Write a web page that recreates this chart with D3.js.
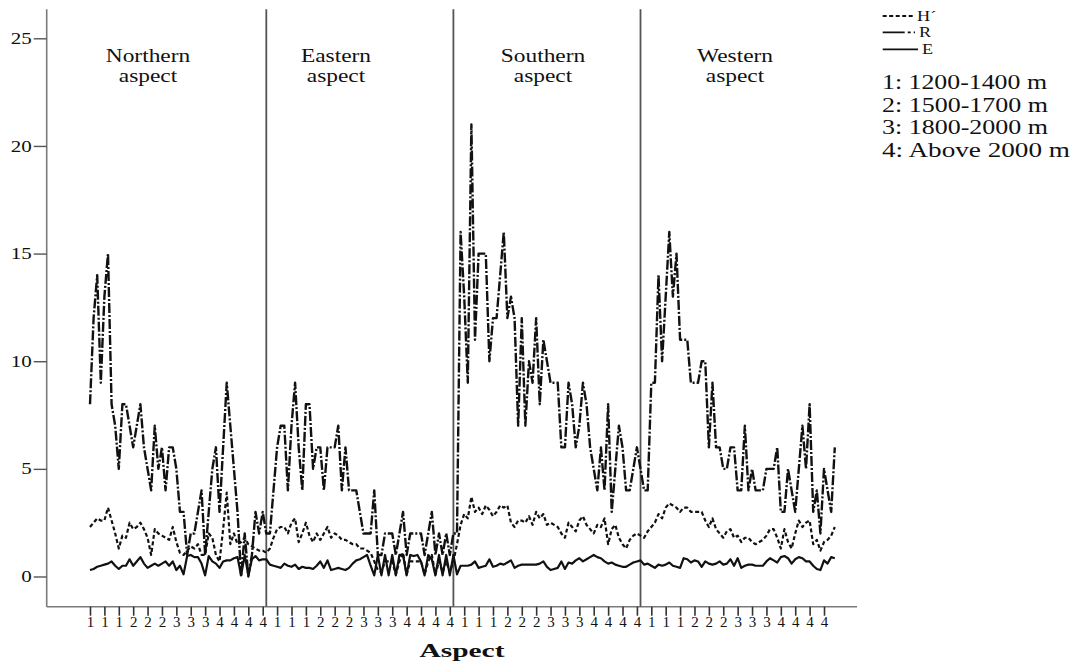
<!DOCTYPE html>
<html><head><meta charset="utf-8">
<script src="https://cdn.jsdelivr.net/npm/d3@7"></script>
<style>
body{margin:0;background:#fff}
svg{display:block;background:#fff}
text{font-family:"Liberation Serif","Times New Roman",serif;fill:#111}
</style>
</head><body>
<svg id="c" width="1075" height="663"></svg>
<script>
// ---------------- data ----------------
const richness = [
  8,12,14,9,13,15,8,7,5,8,
  8,7,6,7,8,6,5,4,7,5,
  6,4,6,6,5,3,3,1,2,2,
  3,4,1,3,5,6,3,6,9,7,
  5,3,0,2,0,1,3,2,3,2,
  2,4,6,7,7,4,7,9,6,4,
  8,8,5,6,6,4,6,6,6,7,
  4,6,4,4,4,3,2,2,2,4,
  1,1,2,2,2,1,2,3,1,2,
  2,2,2,1,2,3,1,2,1,2,
  1,2,2,16,13,9,21,11,15,15,
  15,10,12,12,14,16,12,13,12,7,
  12,7,10,9,12,8,11,10,9,9,
  9,6,6,9,8,6,7,9,8,6,
  5,4,6,4,8,3,5,7,6,4,
  4,5,6,5,4,4,9,9,14,10,
  13,16,13,15,11,11,11,9,9,9,
  10,10,6,9,6,6,5,5,6,6,
  4,4,7,4,5,4,4,4,5,5,
  5,6,3,3,5,4,3,5,7,5,
  8,3,4,2,5,4,3,6
];
const diversity = [
  2.3,2.5,2.7,2.6,2.6,3.2,2.6,2.0,1.3,1.9,
  1.8,2.5,2.2,2.3,2.5,2.2,1.8,1.0,2.2,2.0,
  1.9,1.8,1.7,2.3,1.6,1.1,1.0,1.2,1.4,1.3,
  1.5,1.0,1.0,2.0,1.8,1.0,0.7,2.2,3.9,1.5,
  2.0,1.5,1.6,1.8,1.5,1.4,1.3,1.2,1.2,1.1,
  1.3,1.8,2.2,2.3,2.3,2.0,2.5,2.7,1.6,2.0,
  2.5,1.9,1.6,2.0,1.7,2.0,2.3,1.8,2.0,1.9,
  1.7,1.7,1.6,1.5,1.5,1.3,1.3,1.2,1.1,0.7,
  0.3,0.2,0.7,0.7,0.7,0.1,0.7,1.1,0.1,0.7,
  0.7,0.7,0.7,0.1,0.7,1.0,0.1,0.7,0.2,0.7,
  0.2,0.7,1.5,2.4,2.9,2.7,3.7,3.0,3.2,2.9,
  3.3,3.1,2.8,3.0,3.3,3.2,3.3,2.5,2.3,2.6,
  2.6,2.5,2.8,2.4,3.0,2.7,2.9,2.4,2.5,2.4,
  2.3,2.0,1.8,2.5,2.3,2.1,2.6,2.8,2.4,2.2,
  2.0,2.4,2.3,2.7,1.5,2.2,2.4,1.8,1.5,1.3,
  1.7,1.9,2.0,1.9,1.8,2.1,2.3,2.5,2.9,2.7,
  3.2,3.4,3.3,3.2,3.0,3.2,3.2,3.0,3.0,3.0,
  3.0,2.6,2.3,2.7,2.2,2.0,1.8,2.1,2.2,1.8,
  1.9,1.6,1.8,1.8,1.6,1.5,1.6,1.7,1.9,2.2,
  2.2,1.8,1.3,2.2,1.6,1.3,2.0,2.6,2.3,2.5,
  2.6,1.5,1.7,1.2,1.6,1.7,1.9,2.3
];
const evenness = [
  0.3,0.35,0.45,0.5,0.55,0.6,0.7,0.5,0.35,0.5,
  0.5,0.8,0.5,0.7,0.9,0.6,0.4,0.5,0.6,0.5,
  0.6,0.7,0.5,0.7,0.3,0.5,0.1,0.95,1.0,0.9,
  0.9,0.6,0.05,0.95,0.7,0.6,0.4,0.7,0.75,0.75,
  0.85,0.9,0.05,1.0,0.05,0.8,0.95,0.75,0.8,0.8,
  0.55,0.5,0.45,0.4,0.6,0.5,0.45,0.55,0.35,0.45,
  0.4,0.4,0.35,0.5,0.7,0.4,0.75,0.3,0.35,0.4,
  0.35,0.3,0.4,0.6,0.75,0.8,0.9,1.0,0.5,0.05,
  1.0,0.05,1.0,0.05,1.0,0.05,1.0,1.0,0.05,1.0,
  0.95,1.0,0.7,0.05,1.0,0.8,0.05,1.0,0.05,1.0,
  0.05,1.0,0.1,0.5,0.5,0.5,0.55,0.7,0.4,0.45,
  0.5,0.8,0.45,0.5,0.6,0.55,0.65,0.75,0.4,0.5,
  0.55,0.55,0.55,0.55,0.55,0.6,0.7,0.45,0.3,0.35,
  0.4,0.7,0.35,0.65,0.6,0.75,0.85,0.7,0.8,0.9,
  1.0,0.9,0.85,0.7,0.6,0.65,0.55,0.5,0.45,0.45,
  0.55,0.65,0.7,0.75,0.55,0.6,0.5,0.4,0.55,0.5,
  0.55,0.65,0.5,0.45,0.4,0.85,0.8,0.65,0.75,0.7,
  0.45,0.7,0.6,0.55,0.6,0.7,0.55,0.6,0.8,0.5,
  0.85,0.4,0.5,0.55,0.55,0.5,0.5,0.5,0.7,0.85,
  0.75,0.65,0.9,0.95,0.85,0.6,0.8,0.9,0.85,0.7,
  0.7,0.5,0.35,0.3,0.75,0.6,0.9,0.85
];
const tickLabels = [
  "1","1","1","2","2","2","3","3","3","4","4","4","4",
  "1","1","1","2","2","2","3","3","3","4","4","4","4",
  "1","1","1","2","2","2","3","3","3","4","4","4","4",
  "1","1","1","2","2","2","3","3","3","4","4","4","4"
];
const yTickValues = [0,5,10,15,20,25];
const aspectNames = ["Northern","Eastern","Southern","Western"];
const aspectWord = "aspect";
const aspectSplits = [49,101,153];
const seriesNames = ["H\u00B4","R","E"];
const elevationKey = ["1: 1200-1400 m","2: 1500-1700 m","3: 1800-2000 m","4: Above 2000 m"];
const axisTitle = "Aspect";
const tickStep = 4;

// ---------------- layout ----------------
const axisX = 46.7, axisY = 606.7, plotTop = 9.3, plotRight = 857;
const labelX = [148, 336, 543, 735];
const stretch = 1.3;
const serif = '"Liberation Serif","Times New Roman",serif';

const svg = d3.select("#c");
const n = richness.length;
const x = d3.scaleLinear().domain([0, n - 1]).range([90, 834.8]);
const y = d3.scaleLinear().domain([0, 25]).range([576.5, 38.3]);

function widen(sel) {
  sel.each(function () {
    const w = this.getComputedTextLength();
    d3.select(this).attr("textLength", w * stretch).attr("lengthAdjust", "spacingAndGlyphs");
  });
}

// axis lines
svg.append("line").attr("x1", axisX).attr("x2", axisX).attr("y1", plotTop).attr("y2", axisY)
  .attr("stroke", "#7a7a7a").attr("stroke-width", 1.6);
svg.append("line").attr("x1", axisX).attr("x2", plotRight).attr("y1", axisY).attr("y2", axisY)
  .attr("stroke", "#7a7a7a").attr("stroke-width", 1.6);

// y axis
const gy = svg.append("g").attr("transform", `translate(${axisX},0)`)
  .call(d3.axisLeft(y).tickValues(yTickValues).tickSize(13).tickPadding(2).tickFormat(d3.format("d")));
gy.select(".domain").remove();
gy.selectAll(".tick line").attr("stroke", "#555").attr("stroke-width", 1.4);
gy.selectAll(".tick text").attr("font-family", serif).attr("font-size", 16).attr("fill", "#333")
  .attr("textLength", d => String(d).length * 10.5).attr("lengthAdjust", "spacingAndGlyphs");

// x axis
const tickVals = d3.range(0, tickLabels.length).map(i => i * tickStep);
const gx = svg.append("g").attr("transform", `translate(0,${axisY})`)
  .call(d3.axisBottom(x).tickValues(tickVals).tickSize(9).tickPadding(1)
    .tickFormat((d, i) => tickLabels[i]));
gx.select(".domain").remove();
gx.selectAll(".tick line").attr("stroke", "#333").attr("stroke-width", 1.6);
gx.selectAll(".tick text").attr("font-family", serif).attr("font-size", 15).attr("fill", "#222");

// separators
svg.selectAll("line.sep").data(aspectSplits).enter().append("line").attr("class", "sep")
  .attr("x1", d => x(d)).attr("x2", d => x(d)).attr("y1", plotTop).attr("y2", axisY)
  .attr("stroke", "#555").attr("stroke-width", 1.8);

// aspect labels
aspectNames.forEach((name, i) => {
  svg.append("text").attr("x", labelX[i]).attr("y", 62).attr("text-anchor", "middle")
    .attr("font-size", 18).text(name).call(widen);
  svg.append("text").attr("x", labelX[i]).attr("y", 82).attr("text-anchor", "middle")
    .attr("font-size", 18).text(aspectWord).call(widen);
});

// lines
const line = d3.line().x((d, i) => x(i)).y(d => y(d));
const styles = [
  {data: evenness, dash: null, w: 2.2},
  {data: diversity, dash: "4,2.5", w: 2.2},
  {data: richness, dash: "10,2,2,2", w: 2.4}
];
styles.forEach(s => {
  svg.append("path").datum(s.data).attr("d", line).attr("fill", "none")
    .attr("stroke", "#111").attr("stroke-width", s.w)
    .attr("stroke-linejoin", "round")
    .attr("stroke-dasharray", s.dash);
});

// legend
const legDash = ["4,2.5", "22,3,3,3", null];
const legY = [16, 32.3, 49.3];
const legEnd = [913, 915, 918];
seriesNames.forEach((nm, i) => {
  svg.append("line").attr("x1", 882.7).attr("x2", legEnd[i]).attr("y1", legY[i]).attr("y2", legY[i])
    .attr("stroke", "#111").attr("stroke-width", 1.8).attr("stroke-dasharray", legDash[i]);
  svg.append("text").attr("x", legEnd[i] + 4).attr("y", legY[i] + 5).attr("font-size", 14).text(nm).call(widen);
});
const keyW = [165, 166, 166, 188];
elevationKey.forEach((t, i) => {
  svg.append("text").attr("x", 882).attr("y", 89.3 + i * 22.4).attr("font-size", 20)
    .attr("textLength", keyW[i]).attr("lengthAdjust", "spacingAndGlyphs").text(t);
});

// axis title
svg.append("text").attr("x", 462).attr("y", 657).attr("text-anchor", "middle")
  .attr("font-size", 19).attr("font-weight", "bold").attr("textLength", 85)
  .attr("lengthAdjust", "spacingAndGlyphs").text(axisTitle);
</script>
</body></html>
